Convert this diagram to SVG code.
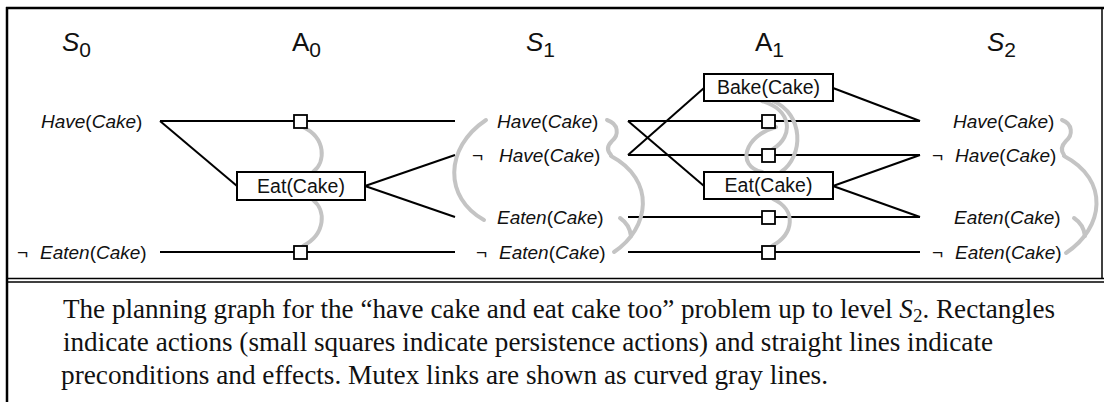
<svg xmlns="http://www.w3.org/2000/svg" width="1104" height="402" viewBox="0 0 1104 402">
  <style>
    .frame { stroke: #000; fill: none; }
    .edge { stroke: #000; stroke-width: 2; fill: none; }
    .mutex { stroke: #c4c4c4; stroke-width: 4; fill: none; stroke-linecap: round; }
    .act { fill: #fff; stroke: #000; stroke-width: 2; }
    .persist { fill: #fff; stroke: #000; stroke-width: 1.8; }
    .lvl { font-family: "Liberation Sans", Arial, sans-serif; font-size: 26px; fill: #111; }
    .lit { font-family: "Liberation Sans", Arial, sans-serif; font-size: 19px; fill: #111; }
    .it { font-style: italic; }
    .acttxt { font-family: "Liberation Sans", Arial, sans-serif; font-size: 19.5px; fill: #111; text-anchor: middle; }
    .cap { font-family: "Liberation Serif", "Times New Roman", serif; font-size: 27px; fill: #111; }
  </style>

  <rect width="1104" height="402" fill="#fff"/>

  <!-- frame -->
  <g id="frame">
    <line class="frame" x1="6" y1="8" x2="1104" y2="8" stroke-width="2.5"/>
    <line class="frame" x1="7" y1="7" x2="7" y2="402" stroke-width="2.5"/>
    <line class="frame" x1="1102" y1="8" x2="1102" y2="279" stroke-width="1.5"/>
    <line class="frame" x1="7" y1="278.5" x2="1104" y2="278.5" stroke-width="1.5"/>
    <line class="frame" x1="7" y1="282" x2="1104" y2="282" stroke-width="1.5"/>
  </g>

  <!-- level headings -->
  <g id="headings">
    <text class="lvl" x="62" y="51"><tspan class="it">S</tspan><tspan font-size="21" dy="6">0</tspan></text>
    <text class="lvl" x="292" y="51">A<tspan font-size="21" dy="6">0</tspan></text>
    <text class="lvl" x="526" y="51"><tspan class="it">S</tspan><tspan font-size="21" dy="6">1</tspan></text>
    <text class="lvl" x="755" y="51">A<tspan font-size="21" dy="6">1</tspan></text>
    <text class="lvl" x="987" y="51"><tspan class="it">S</tspan><tspan font-size="21" dy="6">2</tspan></text>
  </g>

  <!-- connectors: preconditions / effects -->
  <g id="connectors">
    <!-- S0 -> A0 -> S1 -->
    <line class="edge" x1="160" y1="121" x2="455" y2="121"/>
    <line class="edge" x1="160" y1="252" x2="455" y2="252"/>
    <line class="edge" x1="160" y1="121" x2="237" y2="186"/>
    <line class="edge" x1="365" y1="186" x2="455" y2="155"/>
    <line class="edge" x1="365" y1="186" x2="455" y2="217"/>
    <!-- S1 -> A1 -> S2 -->
    <line class="edge" x1="628" y1="121" x2="920" y2="121"/>
    <line class="edge" x1="628" y1="155" x2="920" y2="155"/>
    <line class="edge" x1="628" y1="217" x2="920" y2="217"/>
    <line class="edge" x1="628" y1="252" x2="920" y2="252"/>
    <line class="edge" x1="628" y1="121" x2="704" y2="186"/>
    <line class="edge" x1="628" y1="155" x2="704" y2="88"/>
    <line class="edge" x1="833" y1="88" x2="920" y2="121"/>
    <line class="edge" x1="833" y1="186" x2="920" y2="155"/>
    <line class="edge" x1="833" y1="186" x2="920" y2="217"/>
  </g>

  <!-- mutex links -->
  <g id="mutexes">
    <!-- A0 -->
    <path class="mutex" d="M303,127 C326,138 326,162 313,172"/>
    <path class="mutex" d="M313,200 C326,210 326,234 303,246"/>
    <!-- S1 -->
    <path class="mutex" d="M486,120 C444,148 444,198 484,220"/>
    <path class="mutex" d="M607,120 C619,124 619,135 612,141 C607,146 607,151 611,155"/>
    <path class="mutex" d="M611,156 C656,180 650,228 614,252"/>
    <path class="mutex" d="M620,218 C626,222 630,228 631,236"/>
    <!-- A1 -->
    <path class="mutex" d="M773,101 C804,114 804,156 781,172"/>
    <path class="mutex" d="M762,101 C792,110 794,136 773,149"/>
    <path class="mutex" d="M776,127 C744,136 736,166 762,172"/>
    <path class="mutex" d="M773,199 C797,210 794,234 772,246"/>
    <!-- S2 -->
    <path class="mutex" d="M1062,120 C1073,124 1073,135 1066,141 C1061,146 1061,151 1064,155"/>
    <path class="mutex" d="M1064,156 C1110,180 1104,228 1066,253"/>
    <path class="mutex" d="M1074,218 C1080,222 1084,228 1085,236"/>
  </g>

  <!-- state level S0 -->
  <g id="s0-have"><text class="lit" x="41" y="128"><tspan class="it">Have</tspan>(<tspan class="it">Cake</tspan>)</text></g>
  <g id="s0-not-eaten"><text class="lit" x="17" y="259">¬<tspan x="40" class="it">Eaten</tspan>(<tspan class="it">Cake</tspan>)</text></g>

  <!-- action level A0 -->
  <g id="a0-persist-have"><rect class="persist" x="294" y="115" width="13" height="13"/></g>
  <g id="a0-persist-not-eaten"><rect class="persist" x="294" y="246" width="13" height="13"/></g>
  <g id="a0-eat">
    <rect class="act" x="237" y="172" width="128" height="28"/>
    <text class="acttxt" x="301" y="193">Eat(Cake)</text>
  </g>

  <!-- state level S1 -->
  <g id="s1-have"><text class="lit" x="497" y="128"><tspan class="it">Have</tspan>(<tspan class="it">Cake</tspan>)</text></g>
  <g id="s1-not-have"><text class="lit" x="472" y="162">¬<tspan x="499" class="it">Have</tspan>(<tspan class="it">Cake</tspan>)</text></g>
  <g id="s1-eaten"><text class="lit" x="497" y="224"><tspan class="it">Eaten</tspan>(<tspan class="it">Cake</tspan>)</text></g>
  <g id="s1-not-eaten"><text class="lit" x="476" y="259">¬<tspan x="499" class="it">Eaten</tspan>(<tspan class="it">Cake</tspan>)</text></g>

  <!-- action level A1 -->
  <g id="a1-bake">
    <rect class="act" x="704" y="74" width="129" height="27"/>
    <text class="acttxt" x="768.5" y="94">Bake(Cake)</text>
  </g>
  <g id="a1-eat">
    <rect class="act" x="704" y="172" width="129" height="27"/>
    <text class="acttxt" x="768.5" y="192">Eat(Cake)</text>
  </g>
  <g id="a1-persist-have"><rect class="persist" x="762" y="115" width="13" height="13"/></g>
  <g id="a1-persist-not-have"><rect class="persist" x="762" y="149" width="13" height="13"/></g>
  <g id="a1-persist-eaten"><rect class="persist" x="762" y="211" width="13" height="13"/></g>
  <g id="a1-persist-not-eaten"><rect class="persist" x="762" y="246" width="13" height="13"/></g>

  <!-- state level S2 -->
  <g id="s2-have"><text class="lit" x="953" y="128"><tspan class="it">Have</tspan>(<tspan class="it">Cake</tspan>)</text></g>
  <g id="s2-not-have"><text class="lit" x="932" y="162">¬<tspan x="955" class="it">Have</tspan>(<tspan class="it">Cake</tspan>)</text></g>
  <g id="s2-eaten"><text class="lit" x="954" y="224"><tspan class="it">Eaten</tspan>(<tspan class="it">Cake</tspan>)</text></g>
  <g id="s2-not-eaten"><text class="lit" x="932" y="259">¬<tspan x="955" class="it">Eaten</tspan>(<tspan class="it">Cake</tspan>)</text></g>

  <!-- caption -->
  <g id="caption">
    <text class="cap" x="63" y="318" textLength="992" lengthAdjust="spacingAndGlyphs">The planning graph for the “have cake and eat cake too” problem up to level <tspan font-style="italic">S</tspan><tspan font-size="19" dy="4">2</tspan><tspan dy="-4">. Rectangles</tspan></text>
    <text class="cap" x="63" y="351" textLength="930" lengthAdjust="spacingAndGlyphs">indicate actions (small squares indicate persistence actions) and straight lines indicate</text>
    <text class="cap" x="61" y="384" textLength="767" lengthAdjust="spacingAndGlyphs">preconditions and effects. Mutex links are shown as curved gray lines.</text>
  </g>
</svg>
